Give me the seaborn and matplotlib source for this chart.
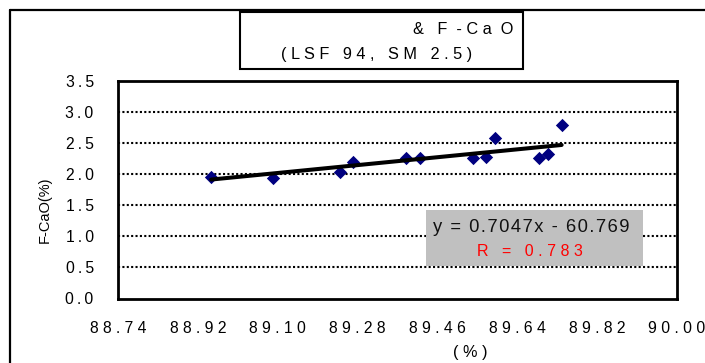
import matplotlib
matplotlib.use('Agg')
import matplotlib.pyplot as plt
import seaborn as sns
import pandas as pd
from matplotlib.patches import Rectangle
from matplotlib.lines import Line2D

sns.set_theme(style='white')
plt.rcParams['font.family'] = ['Liberation Sans', 'DejaVu Sans']

# ---- data ----
content_percent = [88.95, 89.09, 89.24, 89.27, 89.39, 89.42, 89.54, 89.57, 89.59, 89.69, 89.71, 89.74]
fcao_percent = [1.96, 1.94, 2.04, 2.20, 2.26, 2.26, 2.26, 2.27, 2.58, 2.26, 2.33, 2.79]
x_ticks = [88.74, 88.92, 89.10, 89.28, 89.46, 89.64, 89.82, 90.00]
y_ticks = [0.0, 0.5, 1.0, 1.5, 2.0, 2.5, 3.0, 3.5]
trend_slope = 0.7047
trend_intercept = -60.769
r_value = 0.783
title_line1 = "&   F  - C a  O"
title_line2 = "(LSF 94, SM 2.5)"
y_label = "F-CaO(%)"
x_label = "(%)"


def spaced(s, sep=' '):
    return sep.join(s)


W, H = 705, 363
fig = plt.figure(figsize=(W / 100, H / 100), dpi=100)
fig.patch.set_facecolor('white')

ax_l, ax_r, ax_t, ax_b = 118, 677, 81, 298.5
ax = fig.add_axes([ax_l / W, 1 - ax_b / H, (ax_r - ax_l) / W, (ax_b - ax_t) / H])
ax.set_facecolor('white')

df = pd.DataFrame({'x': content_percent, 'y': fcao_percent})
sns.scatterplot(data=df, x='x', y='y', marker='D', s=46, color='#000080',
                linewidth=0, ax=ax, zorder=3)

x_fit = [min(content_percent), max(content_percent)]
trend = pd.DataFrame({'x': x_fit, 'y': [trend_slope * v + trend_intercept for v in x_fit]})
sns.lineplot(data=trend, x='x', y='y', color='black', linewidth=2.9, ax=ax, zorder=4)

ax.set_xlim(x_ticks[0], x_ticks[-1])
ax.set_ylim(y_ticks[0], y_ticks[-1])
ax.set_xticks(x_ticks)
ax.set_xticklabels([spaced(f'{t:.2f}') for t in x_ticks])
ax.set_yticks(y_ticks)
ax.set_yticklabels([spaced(f'{t:.1f}', '\u2009') for t in y_ticks])
ax.set_xlabel('')
ax.set_ylabel('')

for yv in y_ticks[1:-1]:
    ax.axhline(yv, color='black', linewidth=1.5, linestyle=(0, (1, 1.1)), zorder=1)

for sp in ax.spines.values():
    sp.set_color('black')
    sp.set_linewidth(2.0)
    sp.set_visible(True)

ax.tick_params(axis='x', direction='in', length=4, width=1.4, colors='black',
               pad=16.5, labelsize=11.3)
ax.tick_params(axis='y', direction='in', length=0, colors='black',
               pad=17.5, labelsize=11.3)

# outer chart border (top and left edges)
fig.add_artist(Line2D([10 / W, 10 / W], [0, 1 - 10 / H], transform=fig.transFigure,
                      color='black', linewidth=1.6))
fig.add_artist(Line2D([10 / W, 1], [1 - 10 / H, 1 - 10 / H], transform=fig.transFigure,
                      color='black', linewidth=1.6))

# title box
fig.add_artist(Rectangle((240 / W, 1 - 69 / H), (522.7 - 240) / W, (69 - 11.7) / H,
                         transform=fig.transFigure, facecolor='white',
                         edgecolor='black', linewidth=1.5, zorder=5))
fig.text(513 / W, 1 - 29 / H, title_line1, ha='right', va='center',
         fontsize=11.7, color='black', zorder=6)
fig.text(377 / W, 1 - 54 / H, spaced(title_line2), ha='center', va='center',
         fontsize=11.7, color='black', zorder=6)

# axis labels
fig.text(44.5 / W, 1 - 210 / H, y_label, rotation=90, ha='center', va='center',
         fontsize=10.5, color='black')
fig.text(470 / W, 1 - 352 / H, spaced(x_label), ha='center', va='center',
         fontsize=11.7, color='black')

# trendline equation box
fig.add_artist(Rectangle((426 / W, 1 - 266 / H), (643 - 426) / W, (266 - 210) / H,
                         transform=fig.transFigure, facecolor='#C0C0C0',
                         edgecolor='none', zorder=5))
eq_text = f"y = {trend_slope}x - {abs(trend_intercept)}"
fig.text(531.5 / W, 1 - 228 / H, spaced(eq_text, '\u200a'), ha='center', va='center',
         fontsize=13.2, color='#111111', zorder=6)
fig.text(530 / W, 1 - 251 / H, spaced(f"R = {r_value}"), ha='center', va='center',
         fontsize=11.5, color='#FF0000', zorder=6)

fig.savefig('out.png', dpi=100)
